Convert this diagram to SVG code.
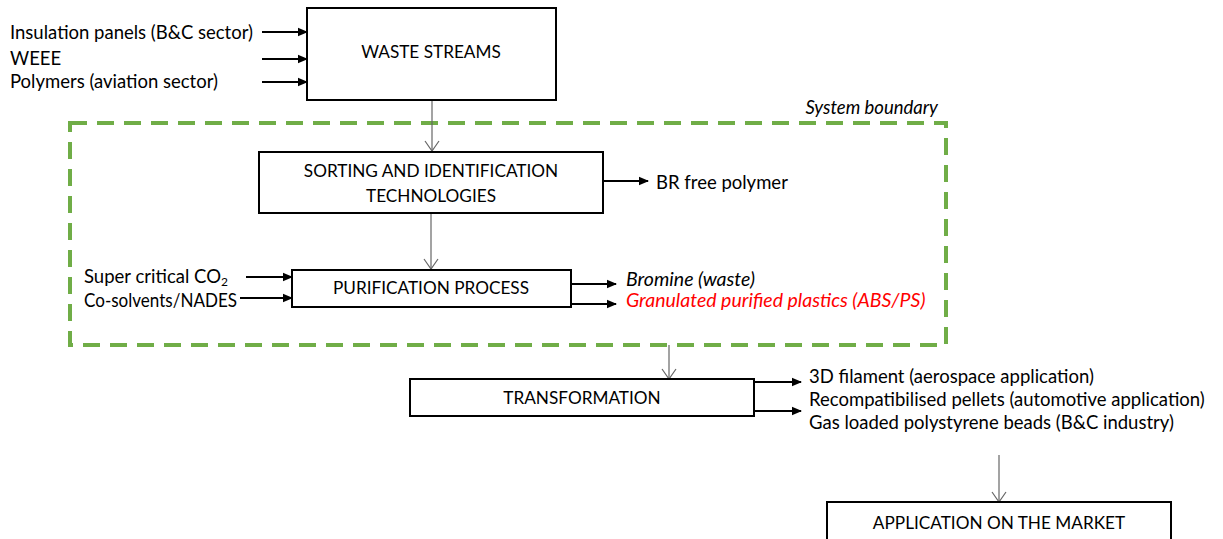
<svg xmlns="http://www.w3.org/2000/svg" width="1223" height="539" viewBox="0 0 1223 539">
<style>
text{font-family:Lato,"Liberation Sans",sans-serif;font-size:18.5px;fill:#000}
.c{text-anchor:middle}
.cap{font-size:17.2px}
.it{font-style:italic}
.out{font-size:19.5px}
.red{fill:#FF0000}
.box{fill:#fff;stroke:#000;stroke-width:2}
.blk{stroke:#000;stroke-width:2;fill:none}
.gry{stroke:#666;stroke-width:1.2;fill:none}
.bnd{fill:none;stroke:#70AD47;stroke-width:4;stroke-dasharray:17 10}
</style>
<defs>
<marker id="ah" markerWidth="10" markerHeight="10" refX="9" refY="5" orient="auto" markerUnits="userSpaceOnUse">
<path d="M0,0.8 L10,5 L0,9.2 Z" fill="#000"/>
</marker>
<marker id="vh" markerWidth="16" markerHeight="12" refX="8" refY="11" orient="0" markerUnits="userSpaceOnUse">
<path d="M1,1 L8,11 L15,1" fill="none" stroke="#666" stroke-width="1.2"/>
</marker>
</defs>
<g id="boundary">
<rect class="bnd" x="70" y="123" width="876" height="222"/>
<text class="it" x="938" y="114" text-anchor="end">System boundary</text>
</g>
<g id="connectors">
<line class="blk" x1="262" y1="32" x2="307" y2="32" marker-end="url(#ah)"/>
<line class="blk" x1="262" y1="59" x2="307" y2="59" marker-end="url(#ah)"/>
<line class="blk" x1="262" y1="82" x2="307" y2="82" marker-end="url(#ah)"/>
<line class="gry" x1="432" y1="101" x2="432" y2="151" marker-end="url(#vh)"/>
<line class="blk" x1="604" y1="181" x2="648" y2="181" marker-end="url(#ah)"/>
<line class="gry" x1="431" y1="214" x2="431" y2="269" marker-end="url(#vh)"/>
<line class="blk" x1="246" y1="277" x2="292" y2="277" marker-end="url(#ah)"/>
<line class="blk" x1="240" y1="298" x2="292" y2="298" marker-end="url(#ah)"/>
<line class="blk" x1="572" y1="284" x2="616" y2="284" marker-end="url(#ah)"/>
<line class="blk" x1="572" y1="304" x2="616" y2="304" marker-end="url(#ah)"/>
<line class="gry" x1="669" y1="345" x2="669" y2="379" marker-end="url(#vh)"/>
<line class="blk" x1="754" y1="382" x2="801" y2="382" marker-end="url(#ah)"/>
<line class="blk" x1="754" y1="411" x2="801" y2="411" marker-end="url(#ah)"/>
<line class="gry" x1="999" y1="455" x2="999" y2="502" marker-end="url(#vh)"/>
</g>
<g id="inputs">
<text x="10" y="39">Insulation panels (B&amp;C sector)</text>
<text x="10" y="65">WEEE</text>
<text x="10" y="88">Polymers (aviation sector)</text>
</g>
<g id="waste-streams">
<rect class="box" x="307" y="8" width="249" height="92"/>
<text class="c cap" x="431" y="58">WASTE STREAMS</text>
</g>
<g id="sorting">
<rect class="box" x="259" y="152" width="344" height="61"/>
<text class="c cap" x="431" y="177">SORTING AND IDENTIFICATION</text>
<text class="c cap" x="431" y="202">TECHNOLOGIES</text>
</g>
<g id="br-free">
<text x="656" y="189" font-size="19.5">BR free polymer</text>
</g>
<g id="purification-inputs">
<text x="84" y="283" textLength="144" lengthAdjust="spacingAndGlyphs">Super critical CO<tspan font-size="12" dy="3">2</tspan></text>
<text x="84" y="307" textLength="153" lengthAdjust="spacingAndGlyphs">Co-solvents/NADES</text>
</g>
<g id="purification">
<rect class="box" x="292" y="270" width="279" height="37"/>
<text class="c cap" x="431" y="294">PURIFICATION PROCESS</text>
</g>
<g id="purification-outputs">
<text class="it out" x="626" y="286">Bromine (waste)</text>
<text class="it out red" x="626" y="307">Granulated purified plastics (ABS/PS)</text>
</g>
<g id="transformation">
<rect class="box" x="410" y="379" width="344" height="37"/>
<text class="c cap" x="582" y="404">TRANSFORMATION</text>
</g>
<g id="transformation-outputs">
<text x="809" y="383">3D filament (aerospace application)</text>
<text x="809" y="406">Recompatibilised pellets (automotive application)</text>
<text x="809" y="429">Gas loaded polystyrene beads (B&amp;C industry)</text>
</g>
<g id="market">
<rect class="box" x="827" y="502" width="344" height="60"/>
<text class="c cap" x="999" y="529">APPLICATION ON THE MARKET</text>
</g>
</svg>
